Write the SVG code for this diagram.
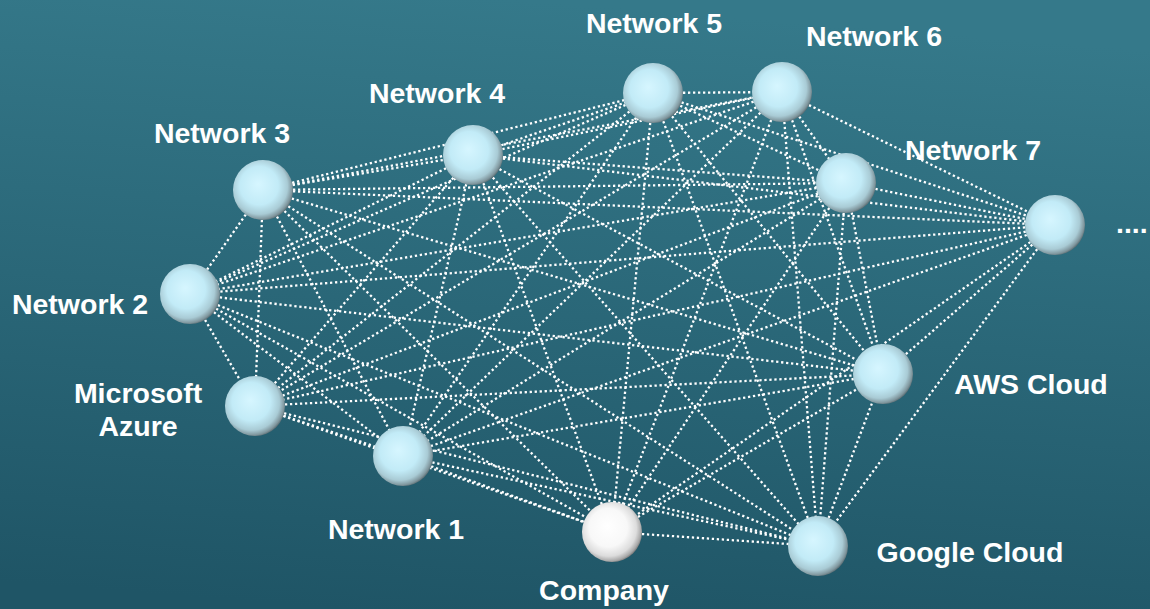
<svg xmlns="http://www.w3.org/2000/svg" width="1150" height="609" viewBox="0 0 1150 609">
<defs>
<linearGradient id="bg" x1="0.45" y1="0" x2="0.3" y2="1">
<stop offset="0" stop-color="#35798a"/>
<stop offset="1" stop-color="#1f5566"/>
</linearGradient>
<radialGradient id="sph" cx="0.45" cy="0.45" r="0.58" fx="0.42" fy="0.4">
<stop offset="0" stop-color="#d6f6ff"/>
<stop offset="0.55" stop-color="#c2ebf7"/>
<stop offset="0.8" stop-color="#a9cbd5"/>
<stop offset="0.93" stop-color="#7f959c"/>
<stop offset="1" stop-color="#4f6066"/>
</radialGradient>
<radialGradient id="sphw" cx="0.45" cy="0.45" r="0.58" fx="0.42" fy="0.4">
<stop offset="0" stop-color="#ffffff"/>
<stop offset="0.55" stop-color="#f8f8f8"/>
<stop offset="0.8" stop-color="#dcdcdc"/>
<stop offset="0.93" stop-color="#a8a8a8"/>
<stop offset="1" stop-color="#6a6a6a"/>
</radialGradient>
<style>
.e{stroke:#ffffff;stroke-width:2.3;stroke-dasharray:2.3 2.7;fill:none}
.s{fill:url(#sph)}
.w{fill:url(#sphw)}
.t{font-family:"Liberation Sans",Arial,sans-serif;font-weight:bold;font-size:28.5px;fill:#ffffff;text-anchor:middle}
</style>
</defs>
<rect width="1150" height="609" fill="url(#bg)"/>
<g id="connectors">
<line class="e" x1="263" y1="190" x2="473" y2="155"/>
<line class="e" x1="263" y1="190" x2="653" y2="93"/>
<line class="e" x1="263" y1="190" x2="782" y2="92"/>
<line class="e" x1="263" y1="190" x2="846" y2="183"/>
<line class="e" x1="263" y1="190" x2="1055" y2="225"/>
<line class="e" x1="263" y1="190" x2="190" y2="294"/>
<line class="e" x1="263" y1="190" x2="255" y2="406"/>
<line class="e" x1="263" y1="190" x2="403" y2="456"/>
<line class="e" x1="263" y1="190" x2="612" y2="532"/>
<line class="e" x1="263" y1="190" x2="818" y2="546"/>
<line class="e" x1="263" y1="190" x2="883" y2="374"/>
<line class="e" x1="473" y1="155" x2="653" y2="93"/>
<line class="e" x1="473" y1="155" x2="782" y2="92"/>
<line class="e" x1="473" y1="155" x2="846" y2="183"/>
<line class="e" x1="473" y1="155" x2="1055" y2="225"/>
<line class="e" x1="473" y1="155" x2="190" y2="294"/>
<line class="e" x1="473" y1="155" x2="255" y2="406"/>
<line class="e" x1="473" y1="155" x2="403" y2="456"/>
<line class="e" x1="473" y1="155" x2="612" y2="532"/>
<line class="e" x1="473" y1="155" x2="818" y2="546"/>
<line class="e" x1="473" y1="155" x2="883" y2="374"/>
<line class="e" x1="653" y1="93" x2="782" y2="92"/>
<line class="e" x1="653" y1="93" x2="846" y2="183"/>
<line class="e" x1="653" y1="93" x2="1055" y2="225"/>
<line class="e" x1="653" y1="93" x2="190" y2="294"/>
<line class="e" x1="653" y1="93" x2="255" y2="406"/>
<line class="e" x1="653" y1="93" x2="403" y2="456"/>
<line class="e" x1="653" y1="93" x2="612" y2="532"/>
<line class="e" x1="653" y1="93" x2="818" y2="546"/>
<line class="e" x1="653" y1="93" x2="883" y2="374"/>
<line class="e" x1="782" y1="92" x2="846" y2="183"/>
<line class="e" x1="782" y1="92" x2="1055" y2="225"/>
<line class="e" x1="782" y1="92" x2="190" y2="294"/>
<line class="e" x1="782" y1="92" x2="255" y2="406"/>
<line class="e" x1="782" y1="92" x2="403" y2="456"/>
<line class="e" x1="782" y1="92" x2="612" y2="532"/>
<line class="e" x1="782" y1="92" x2="818" y2="546"/>
<line class="e" x1="782" y1="92" x2="883" y2="374"/>
<line class="e" x1="846" y1="183" x2="1055" y2="225"/>
<line class="e" x1="846" y1="183" x2="190" y2="294"/>
<line class="e" x1="846" y1="183" x2="255" y2="406"/>
<line class="e" x1="846" y1="183" x2="403" y2="456"/>
<line class="e" x1="846" y1="183" x2="612" y2="532"/>
<line class="e" x1="846" y1="183" x2="818" y2="546"/>
<line class="e" x1="846" y1="183" x2="883" y2="374"/>
<line class="e" x1="1055" y1="225" x2="190" y2="294"/>
<line class="e" x1="1055" y1="225" x2="255" y2="406"/>
<line class="e" x1="1055" y1="225" x2="403" y2="456"/>
<line class="e" x1="1055" y1="225" x2="612" y2="532"/>
<line class="e" x1="1055" y1="225" x2="818" y2="546"/>
<line class="e" x1="1055" y1="225" x2="883" y2="374"/>
<line class="e" x1="190" y1="294" x2="255" y2="406"/>
<line class="e" x1="190" y1="294" x2="403" y2="456"/>
<line class="e" x1="190" y1="294" x2="612" y2="532"/>
<line class="e" x1="190" y1="294" x2="818" y2="546"/>
<line class="e" x1="190" y1="294" x2="883" y2="374"/>
<line class="e" x1="255" y1="406" x2="403" y2="456"/>
<line class="e" x1="255" y1="406" x2="612" y2="532"/>
<line class="e" x1="255" y1="406" x2="818" y2="546"/>
<line class="e" x1="255" y1="406" x2="883" y2="374"/>
<line class="e" x1="403" y1="456" x2="612" y2="532"/>
<line class="e" x1="403" y1="456" x2="818" y2="546"/>
<line class="e" x1="403" y1="456" x2="883" y2="374"/>
<line class="e" x1="612" y1="532" x2="818" y2="546"/>
<line class="e" x1="612" y1="532" x2="883" y2="374"/>
<line class="e" x1="818" y1="546" x2="883" y2="374"/>
</g>
<g id="network3"><circle class="s" cx="263" cy="190" r="30"/><text class="t" x="222" y="143">Network 3</text></g>
<g id="network4"><circle class="s" cx="473" cy="155" r="30"/><text class="t" x="437" y="103">Network 4</text></g>
<g id="network5"><circle class="s" cx="653" cy="93" r="30"/><text class="t" x="654" y="33">Network 5</text></g>
<g id="network6"><circle class="s" cx="782" cy="92" r="30"/><text class="t" x="874" y="46">Network 6</text></g>
<g id="network7"><circle class="s" cx="846" cy="183" r="30"/><text class="t" x="973" y="160">Network 7</text></g>
<g id="more"><circle class="s" cx="1055" cy="225" r="30"/><text class="t" x="1116" y="233" style="text-anchor:start">....</text></g>
<g id="network2"><circle class="s" cx="190" cy="294" r="30"/><text class="t" x="80" y="314">Network 2</text></g>
<g id="azure"><circle class="s" cx="255" cy="406" r="30"/><text class="t" x="138" y="403">Microsoft</text><text class="t" x="138" y="436">Azure</text></g>
<g id="network1"><circle class="s" cx="403" cy="456" r="30"/><text class="t" x="396" y="539">Network 1</text></g>
<g id="company"><circle class="w" cx="612" cy="532" r="30"/><text class="t" x="604" y="600">Company</text></g>
<g id="google"><circle class="s" cx="818" cy="546" r="30"/><text class="t" x="970" y="562">Google Cloud</text></g>
<g id="aws"><circle class="s" cx="883" cy="374" r="30"/><text class="t" x="1031" y="394">AWS Cloud</text></g>
</svg>
